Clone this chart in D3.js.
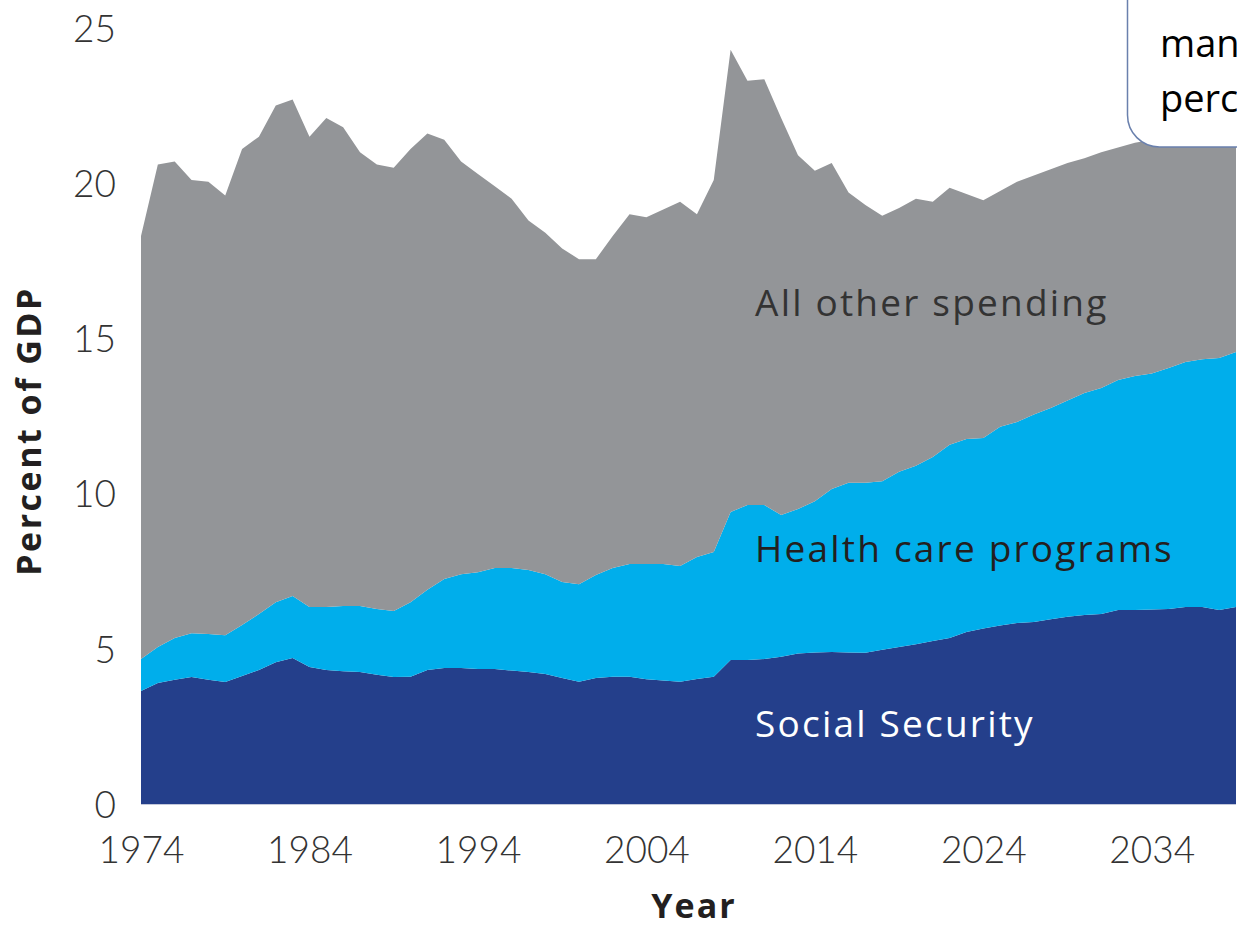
<!DOCTYPE html>
<html>
<head>
<meta charset="utf-8">
<script src="https://cdn.jsdelivr.net/npm/d3@7"></script>
<style>
  html, body { margin: 0; padding: 0; background: #fff; }
  svg { display: block; }
</style>
</head>
<body>
<svg id="chart" width="1237" height="929"></svg>
<script>
// ---- Data (percent of GDP) ----
const years = d3.range(1974, 2040);

const socialSecurity = [
  3.64, 3.90, 4.00, 4.09, 4.00, 3.93, 4.12, 4.32, 4.57, 4.70,
  4.41, 4.32, 4.28, 4.25, 4.16, 4.09, 4.10, 4.32, 4.38, 4.38,
  4.35, 4.35, 4.30, 4.25, 4.19, 4.06, 3.94, 4.06, 4.10, 4.10,
  4.02, 3.98, 3.94, 4.03, 4.10, 4.64, 4.64, 4.67, 4.74, 4.85,
  4.88, 4.90, 4.88, 4.87, 4.97, 5.06, 5.15, 5.25, 5.35, 5.54,
  5.65, 5.75, 5.83, 5.86, 5.95, 6.03, 6.09, 6.12, 6.25, 6.25,
  6.27, 6.28, 6.35, 6.35, 6.25, 6.35
];

const healthCare = [
  1.03, 1.16, 1.35, 1.41, 1.48, 1.51, 1.65, 1.80, 1.93, 2.00,
  1.94, 2.03, 2.10, 2.13, 2.12, 2.13, 2.40, 2.58, 2.87, 3.02,
  3.12, 3.25, 3.30, 3.29, 3.21, 3.09, 3.14, 3.32, 3.50, 3.63,
  3.71, 3.75, 3.73, 3.93, 4.02, 4.77, 4.99, 4.96, 4.57, 4.65,
  4.87, 5.25, 5.47, 5.48, 5.43, 5.64, 5.75, 5.93, 6.22, 6.22,
  6.14, 6.40, 6.48, 6.69, 6.81, 6.97, 7.15, 7.28, 7.41, 7.54,
  7.60, 7.77, 7.89, 7.98, 8.12, 8.21
];

const allOther = [
  13.63, 15.54, 15.35, 14.60, 14.57, 14.16, 15.33, 15.38, 16.00, 16.00,
  15.15, 15.75, 15.42, 14.62, 14.32, 14.28, 14.60, 14.70, 14.15, 13.30,
  12.83, 12.30, 11.90, 11.26, 11.00, 10.75, 10.47, 10.17, 10.70, 11.27,
  11.17, 11.42, 11.73, 11.04, 11.98, 14.89, 13.67, 13.72, 12.79, 11.40,
  10.65, 10.50, 9.35, 8.95, 8.55, 8.50, 8.60, 8.22, 8.28, 7.89,
  7.66, 7.60, 7.74, 7.70, 7.69, 7.65, 7.56, 7.60, 7.49, 7.51,
  7.53, 7.40, 7.26, 7.22, 7.23, 7.04
];

const seriesKeys = ["Social Security", "Health care programs", "All other spending"];
const seriesColors = ["#243f8b", "#00aeeb", "#939598"];
const xTicks = [1974, 1984, 1994, 2004, 2014, 2024, 2034];
const yTicks = [0, 5, 10, 15, 20, 25];
const calloutLines = ["man", "perc"];

// ---- Build table ----
const table = years.map((yr, i) => ({
  year: yr,
  "Social Security": socialSecurity[i],
  "Health care programs": healthCare[i],
  "All other spending": allOther[i]
}));

const svg = d3.select("#chart");

const x = d3.scaleLinear().domain([1974, 2039]).range([141, 1236]);
const y = d3.scaleLinear().domain([0, 25]).range([804, 28]);

const stack = d3.stack().keys(seriesKeys);
const layers = stack(table);

const area = d3.area()
  .x(d => x(d.data.year))
  .y0(d => y(d[0]))
  .y1(d => y(d[1]))
  .curve(d3.curveLinear);

svg.append("g")
  .selectAll("path")
  .data(layers)
  .join("path")
  .attr("d", area)
  .attr("fill", (d, i) => seriesColors[i]);

// faint baseline under the areas
svg.append("line")
  .attr("x1", x(1974)).attr("x2", x(2039))
  .attr("y1", y(0) + 0.5).attr("y2", y(0) + 0.5)
  .attr("stroke", "#c3c8da").attr("stroke-width", 1);

// ---- Axes ----
const xAxis = d3.axisBottom(x)
  .tickValues(xTicks)
  .tickFormat(d3.format("d"))
  .tickSize(0)
  .tickPadding(0);

const gx = svg.append("g")
  .attr("transform", `translate(0, ${y(0)})`)
  .call(xAxis);
gx.select(".domain").remove();
gx.selectAll("text")
  .attr("y", 59)
  .attr("dy", null)
  .attr("fill", "#333")
  .style("font-family", "Lato, 'Open Sans', sans-serif")
  .style("font-weight", 300)
  .style("font-size", "37px");

const yAxis = d3.axisLeft(y)
  .tickValues(yTicks)
  .tickFormat(d3.format("d"))
  .tickSize(0)
  .tickPadding(0);

const gy = svg.append("g")
  .attr("transform", "translate(116, 0)")
  .call(yAxis);
gy.select(".domain").remove();
gy.selectAll("text")
  .attr("x", 0)
  .attr("dy", "0.36em")
  .attr("fill", "#333")
  .style("font-family", "Lato, 'Open Sans', sans-serif")
  .style("font-weight", 300)
  .style("font-size", "37px");

// ---- Axis titles ----
svg.append("text")
  .attr("transform", "translate(41, 431) rotate(-90)")
  .attr("text-anchor", "middle")
  .attr("fill", "#231f20")
  .style("font-family", "'Open Sans', sans-serif")
  .style("font-weight", 700)
  .style("font-size", "34px")
  .style("letter-spacing", "2.5px")
  .text("Percent of GDP");

svg.append("text")
  .attr("x", 694)
  .attr("y", 918)
  .attr("text-anchor", "middle")
  .attr("fill", "#231f20")
  .style("font-family", "'Open Sans', sans-serif")
  .style("font-weight", 700)
  .style("font-size", "34px")
  .style("letter-spacing", "2px")
  .text("Year");

// ---- Area labels ----
const labels = [
  { text: "All other spending", yv: 15.72, color: "#333" },
  { text: "Health care programs", yv: 7.8, color: "#231f20" },
  { text: "Social Security", yv: 2.16, color: "#ffffff" }
];
svg.append("g")
  .selectAll("text")
  .data(labels)
  .join("text")
  .attr("x", x(2010.45))
  .attr("y", d => y(d.yv))
  .attr("fill", d => d.color)
  .style("font-family", "'Open Sans', sans-serif")
  .style("font-weight", 400)
  .style("font-size", "37px")
  .style("letter-spacing", "2.2px")
  .text(d => d.text);

// ---- Callout box (cut off at the right edge, as in the source) ----
const callout = svg.append("g");
callout.append("rect")
  .attr("x", 1127.5).attr("y", -40)
  .attr("width", 200).attr("height", 187)
  .attr("rx", 32).attr("ry", 32)
  .attr("fill", "#fff")
  .attr("stroke", "#6a80ad")
  .attr("stroke-width", 1.5);
callout.selectAll("text.cl")
  .data(calloutLines)
  .join("text")
  .attr("class", "cl")
  .attr("x", 1160)
  .attr("y", (d, i) => 57 + i * 55)
  .attr("fill", "#000")
  .style("font-family", "'Open Sans', sans-serif")
  .style("font-size", "38px")
  .text(d => d);
</script>
</body>
</html>
